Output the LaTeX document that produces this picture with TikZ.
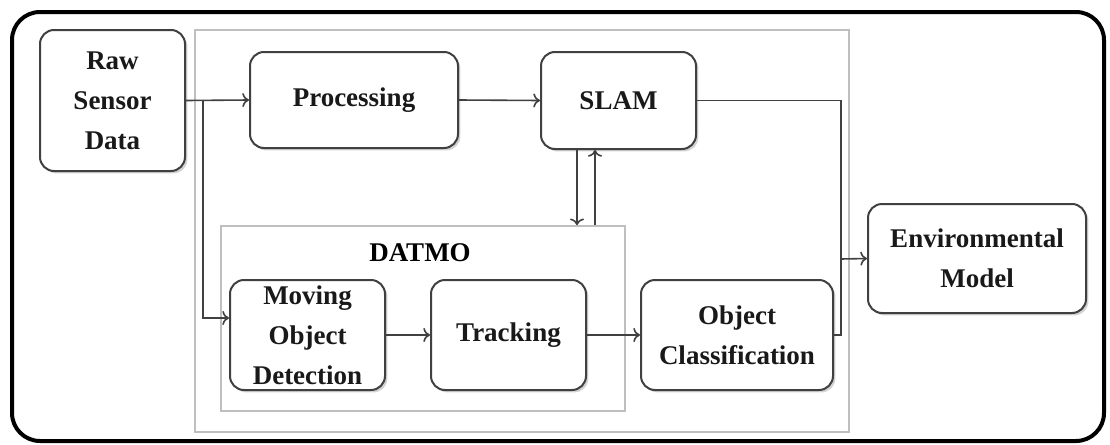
\documentclass[tikz,border=0pt]{standalone}
\usepackage{fontspec}
\setmainfont{Liberation Serif}
\usepackage{tikz}
\usetikzlibrary{arrows.meta,shadows}

\begin{document}
\begin{tikzpicture}[x=0.5pt,y=-0.5pt,
		font=\fontsize{13.5}{20}\selectfont\bfseries,
		block/.style={draw=black!75, line width=1pt, fill=white, rounded corners=7pt, align=center, inner sep=0pt, text=black!90,
			drop shadow={opacity=0.35, shadow xshift=1.2pt, shadow yshift=-1.2pt}},
		frame/.style={draw=black!25, line width=0.8pt},
		link/.style={draw=black!75, line width=0.8pt}]
		\useasboundingbox (0,0) rectangle (1110,445);
		\draw[line width=2pt, rounded corners=14pt] (12,12) rectangle (1104,441);
		\draw[frame] (195,30) rectangle (849,432);
		\node[frame, minimum width=202pt, minimum height=92.5pt] (datmo) at (423,318.5) {};
		\node (datmolabel) at (420,253) {DATMO};

		\node[block, minimum width=72.5pt, minimum height=70.5pt] (raw) at (112.5,100.5) {Raw\\Sensor\\Data};
		\node[block, minimum width=104pt, minimum height=48pt] (proc) at (354,100) {Processing};
		\node[block, minimum width=77.5pt, minimum height=48.5pt] (slam) at (618.5,100.5) {SLAM};
		\node[block, minimum width=77.5pt, minimum height=55pt] (mod) at (307.5,335) {Moving\\Object\\Detection};
		\node[block, minimum width=77.5pt, minimum height=55pt] (track) at (508.5,335) {Tracking};
		\node[block, minimum width=96pt, minimum height=55pt] (objcls) at (737,335) {Object\\Classification};
		\node[block, minimum width=109pt, minimum height=54.5pt] (env) at (977,258.5) {Environmental\\Model};

		\coordinate (split) at (203,100);
		\coordinate (join) at (841,259);

		\path[->, every edge/.append style={link}]
		(raw.east) edge (proc.west)
		(proc.east) edge (slam.west)
		(mod.east) edge (track.west)
		(track.east) edge (objcls.west)
		(join) edge (env.west)
		([xshift=-20.75pt]slam.south) edge ([xshift=-20.75pt]slam.south |- datmo.north)
		([xshift=-11.75pt]slam.south |- datmo.north) edge ([xshift=-11.75pt]slam.south)
		;
		\draw[link, ->] (split) |- ([yshift=8.5pt]mod.west);
		\draw[link] (slam.east) -| (join) |- (objcls.east);
\end{tikzpicture}
\end{document}
